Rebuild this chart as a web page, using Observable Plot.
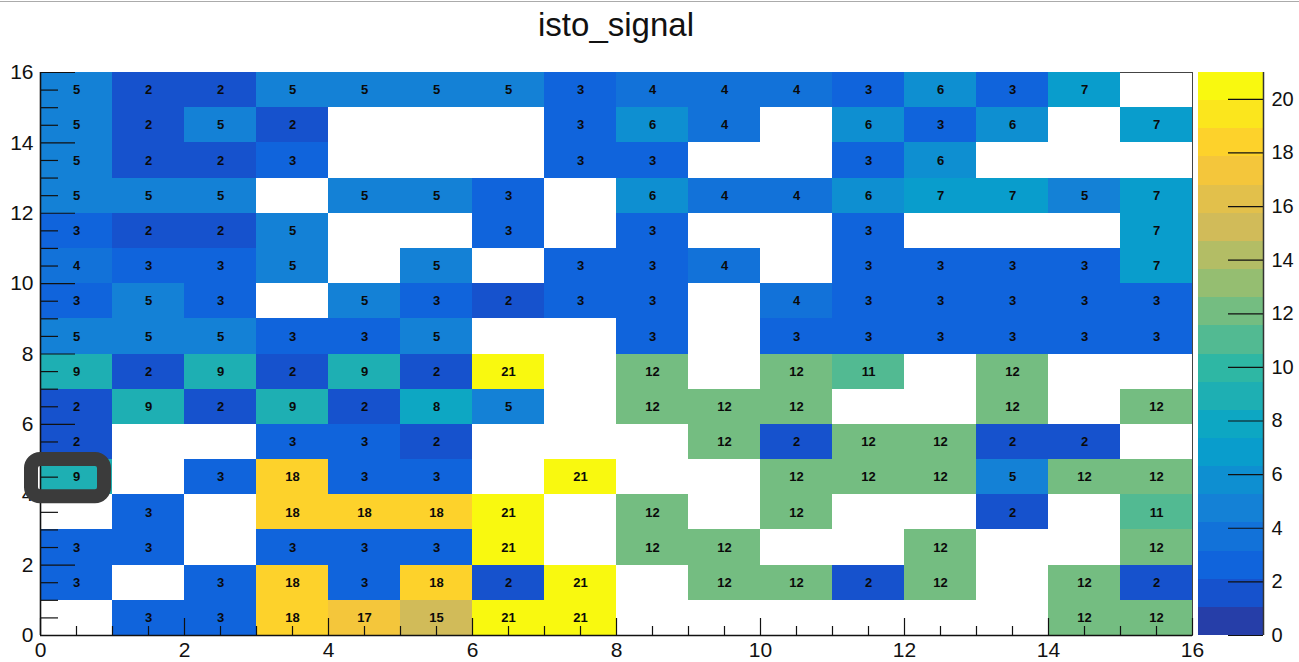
<!DOCTYPE html>
<html>
<head>
<meta charset="utf-8">
<script src="https://cdn.jsdelivr.net/npm/d3@7"></script>
<script src="https://cdn.jsdelivr.net/npm/@observablehq/plot@0.6"></script>
<style>
  html, body { margin: 0; padding: 0; background: #fff; }
  #wrap { position: relative; width: 1299px; height: 662px; overflow: hidden; background: #fff; }
  #topline { position: absolute; left: 0; top: 1px; width: 1299px; height: 1px; background: #ababab; }
  #title { position: absolute; left: 0; top: 8px; width: 1232px; text-align: center;
           font: 33px/33px "Liberation Sans", Arial, Helvetica, sans-serif; color: #111; }
  #main { position: absolute; left: 0; top: 0; }
  #cbar { position: absolute; left: 1198px; top: 0; }
</style>
</head>
<body>
<div id="wrap">
  <div id="topline"></div>
  <div id="title">isto_signal</div>
  <div id="main"></div>
  <div id="cbar"></div>
</div>
<script>
// ---- data (bin contents; null = empty bin) ----
const xBins = [0, 1, 2, 3, 4, 5, 6, 7, 8, 9, 10, 11, 12, 13, 14, 15];
const yBinsTopDown = [15, 14, 13, 12, 11, 10, 9, 8, 7, 6, 5, 4, 3, 2, 1, 0];
const counts = [
  /* y=15 */ [5, 2, 2, 5, 5, 5, 5, 3, 4, 4, 4, 3, 6, 3, 7, null],
  /* y=14 */ [5, 2, 5, 2, null, null, null, 3, 6, 4, null, 6, 3, 6, null, 7],
  /* y=13 */ [5, 2, 2, 3, null, null, null, 3, 3, null, null, 3, 6, null, null, null],
  /* y=12 */ [5, 5, 5, null, 5, 5, 3, null, 6, 4, 4, 6, 7, 7, 5, 7],
  /* y=11 */ [3, 2, 2, 5, null, null, 3, null, 3, null, null, 3, null, null, null, 7],
  /* y=10 */ [4, 3, 3, 5, null, 5, null, 3, 3, 4, null, 3, 3, 3, 3, 7],
  /* y=9  */ [3, 5, 3, null, 5, 3, 2, 3, 3, null, 4, 3, 3, 3, 3, 3],
  /* y=8  */ [5, 5, 5, 3, 3, 5, null, null, 3, null, 3, 3, 3, 3, 3, 3],
  /* y=7  */ [9, 2, 9, 2, 9, 2, 21, null, 12, null, 12, 11, null, 12, null, null],
  /* y=6  */ [2, 9, 2, 9, 2, 8, 5, null, 12, 12, 12, null, null, 12, null, 12],
  /* y=5  */ [2, null, null, 3, 3, 2, null, null, null, 12, 2, 12, 12, 2, 2, null],
  /* y=4  */ [9, null, 3, 18, 3, 3, null, 21, null, null, 12, 12, 12, 5, 12, 12],
  /* y=3  */ [null, 3, null, 18, 18, 18, 21, null, 12, null, 12, null, null, 2, null, 11],
  /* y=2  */ [3, 3, null, 3, 3, 3, 21, null, 12, 12, null, null, 12, null, null, 12],
  /* y=1  */ [3, null, 3, 18, 3, 18, 2, 21, null, 12, 12, 2, 12, null, 12, 2],
  /* y=0  */ [null, 3, 3, 18, 17, 15, 21, 21, null, null, null, null, null, null, 12, 12]
];
const xTickLabels = [0, 2, 4, 6, 8, 10, 12, 14, 16];
const yTickLabels = [0, 2, 4, 6, 8, 10, 12, 14, 16];
const colorTickLabels = [0, 2, 4, 6, 8, 10, 12, 14, 16, 18, 20];
const zMin = 0, zMax = 21, nContours = 20;
const highlighted = [{x: 0, y: 4}];

// ---- table for the marks ----
const cells = [];
yBinsTopDown.forEach((y, r) => xBins.forEach((x, c) => {
  const v = counts[r][c];
  if (v != null) cells.push({x, y, v});
}));

// ---- ROOT kBird palette (255 colours, 20 contour bands) ----
const stops = [0.0, 0.125, 0.25, 0.375, 0.5, 0.625, 0.75, 0.875, 1.0];
const red   = [0.2082, 0.0592, 0.0780, 0.0232, 0.1802, 0.5301, 0.8186, 0.9956, 0.9764];
const green = [0.1664, 0.3599, 0.5041, 0.6419, 0.7178, 0.7492, 0.7328, 0.7862, 0.9832];
const blue  = [0.5293, 0.8684, 0.8385, 0.7914, 0.6425, 0.4662, 0.3499, 0.1968, 0.0539];
const NC = 255, palette = [];
for (let g = 1; g < stops.length; g++) {
  const n = Math.floor(NC * stops[g]) - Math.floor(NC * stops[g - 1]);
  for (let c = 0; c < n; c++) {
    const t = c / n;
    palette.push(d3.rgb(
      255 * (red[g - 1] + t * (red[g] - red[g - 1])),
      255 * (green[g - 1] + t * (green[g] - green[g - 1])),
      255 * (blue[g - 1] + t * (blue[g] - blue[g - 1]))
    ).formatHex());
  }
}
const step = (zMax - zMin) / nContours;
const bandColors = d3.range(nContours).map(i => palette[Math.min(NC - 1, Math.floor((i + 0.99) * NC / nContours))]);
const thresholds = d3.range(1, nContours).map(i => zMin + i * step);
const colorScale = {type: "threshold", domain: thresholds, range: bandColors};

const font = "'Liberation Sans', Arial, Helvetica, sans-serif";

// ---- main 2D histogram ----
const W = 1195, H = 662, mL = 40, mR = 3, mT = 72, mB = 27;
const frameW = W - mL - mR, frameH = H - mT - mB;
const halfSteps = d3.range(0, 16.5, 0.5);
const xMinor = halfSteps.filter(t => t % 2 !== 0);
const yMinor = halfSteps.filter(t => t % 2 !== 0);

const main = Plot.plot({
  width: W, height: H,
  marginLeft: mL, marginRight: mR, marginTop: mT, marginBottom: mB,
  style: {fontFamily: font, fontSize: "21px", background: "transparent", color: "#111", overflow: "visible"},
  x: {domain: [0, 16], label: null},
  y: {domain: [0, 16], label: null},
  color: colorScale,
  marks: [
    Plot.frame({stroke: "#444", strokeWidth: 1}),
    Plot.rect(cells, {x1: "x", x2: d => d.x + 1, y1: "y", y2: d => d.y + 1, fill: "v", shapeRendering: "crispEdges"}),
    Plot.text(cells, {x: d => d.x + 0.5, y: d => d.y + 0.5, text: d => String(d.v),
      fontSize: 13, fontWeight: "bold", fill: "#0a0a0a", fontFamily: font}),
    Plot.tickX(xTickLabels, {x: d => d, insetTop: frameH - 17, stroke: "#111", strokeWidth: 1.2}),
    Plot.tickX(xMinor, {x: d => d, insetTop: frameH - 9, stroke: "#111", strokeWidth: 1.2}),
    Plot.tickY(yTickLabels, {y: d => d, insetRight: frameW - 35, stroke: "#111", strokeWidth: 1.2}),
    Plot.tickY(yMinor, {y: d => d, insetRight: frameW - 18, stroke: "#111", strokeWidth: 1.2}),
    Plot.ruleX([0], {stroke: "#111", strokeWidth: 1.6}),
    Plot.ruleY([0], {stroke: "#111", strokeWidth: 1.6}),
    Plot.axisX({ticks: xTickLabels, tickSize: 0, tickPadding: 7, fontSize: 21, label: null, tickFormat: d => String(d)}),
    Plot.axisY({ticks: yTickLabels, tickSize: 0, tickPadding: 7, fontSize: 21, label: null, tickFormat: d => String(d)}),
    Plot.rect(highlighted, {x1: "x", x2: d => d.x + 1, y1: "y", y2: d => d.y + 1,
      fill: "none", stroke: "#3b3b3b", strokeWidth: 14, rx: 9,
      insetLeft: -9, insetRight: 8, insetTop: 0, insetBottom: -2})
  ]
});
document.getElementById("main").appendChild(main);

// ---- colour bar ----
const bands = d3.range(nContours).map(i => ({lo: zMin + i * step, hi: zMin + (i + 1) * step}));
const cbar = Plot.plot({
  width: 101, height: H,
  marginLeft: 0, marginRight: 36, marginTop: mT, marginBottom: mB,
  style: {fontFamily: font, fontSize: "20px", background: "transparent", color: "#111", overflow: "visible"},
  x: {domain: [0, 1], axis: null},
  y: {domain: [zMin, zMax], axis: null},
  color: colorScale,
  marks: [
    Plot.rect(bands, {x1: 0, x2: 1, y1: "lo", y2: "hi", fill: d => (d.lo + d.hi) / 2, shapeRendering: "crispEdges"}),
    Plot.tickY(colorTickLabels, {y: d => d, insetLeft: 30, stroke: "#111", strokeWidth: 1.2}),
    Plot.ruleX([1], {stroke: "#333", strokeWidth: 1.5}),
    Plot.axisY({anchor: "right", ticks: colorTickLabels, tickSize: 0, tickPadding: 8, fontSize: 20, label: null, tickFormat: d => String(d)})
  ]
});
document.getElementById("cbar").appendChild(cbar);
</script>
</body>
</html>
